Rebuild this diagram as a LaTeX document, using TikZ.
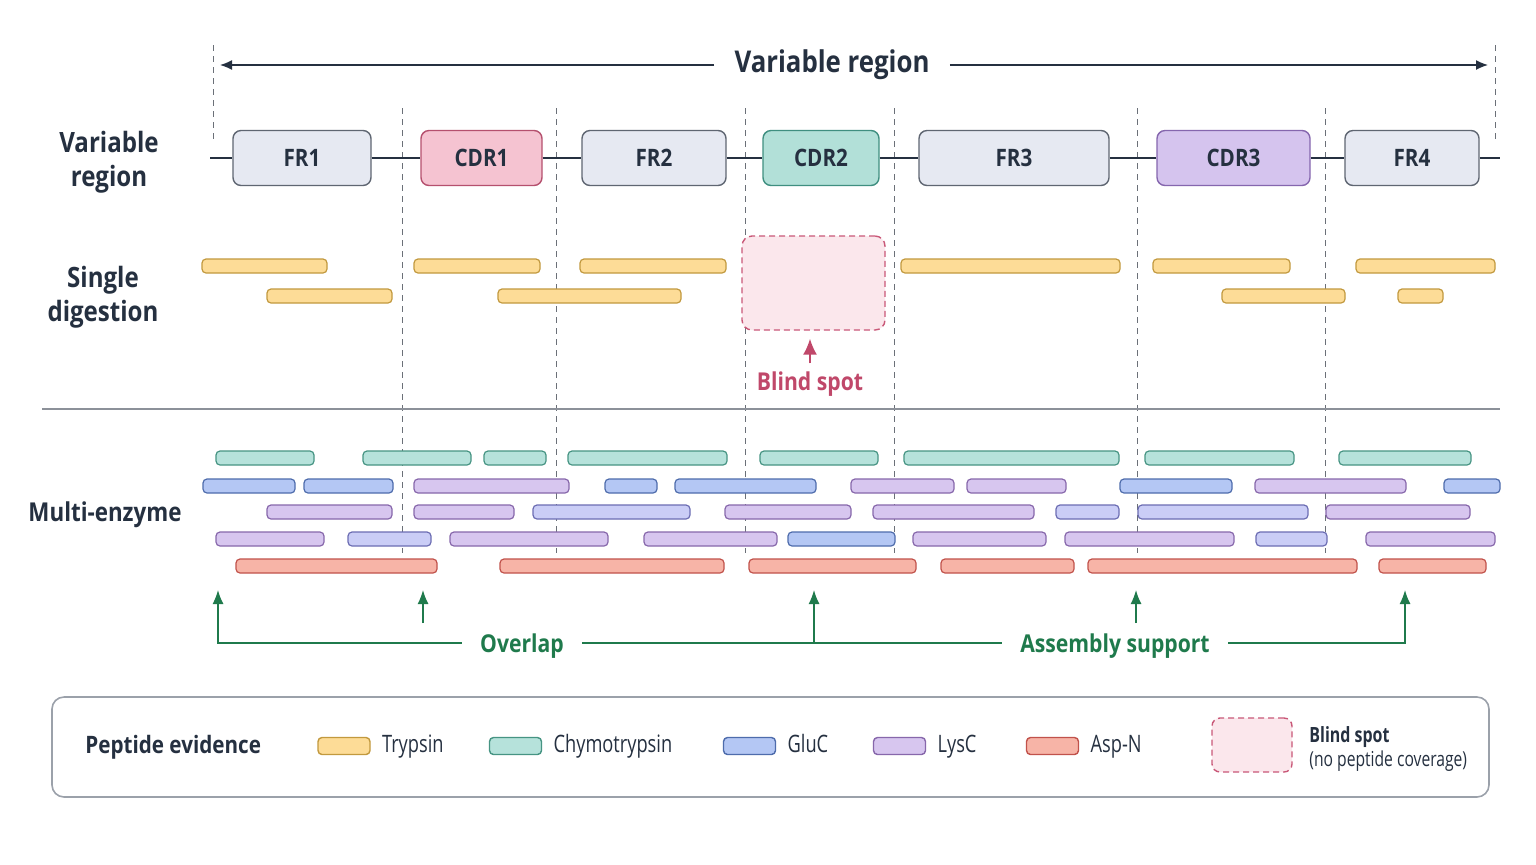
\documentclass[tikz,border=0pt]{standalone}
\usepackage{fontspec}
\setmainfont{Open Sans}[FakeStretch=0.86]
\newfontfamily\narrowfont{Open Sans}[FakeStretch=0.76]
\usepackage{tikz}
\usetikzlibrary{positioning,arrows.meta}

\definecolor{ink}{HTML}{253040}
\definecolor{frfill}{HTML}{E6E9F2}\definecolor{frline}{HTML}{5F6672}
\definecolor{cdra}{HTML}{F5C3D1}\definecolor{cdral}{HTML}{B5506E}
\definecolor{cdrb}{HTML}{B2E0D8}\definecolor{cdrbl}{HTML}{3F8F80}
\definecolor{cdrc}{HTML}{D5C4EE}\definecolor{cdrcl}{HTML}{8566AE}
\definecolor{trypf}{HTML}{FDDC97}\definecolor{trypl}{HTML}{C2993E}
\definecolor{chyf}{HTML}{B6E2DB}\definecolor{chyl}{HTML}{469483}
\definecolor{glucf}{HTML}{B4C7F4}\definecolor{glucl}{HTML}{4E6CAC}
\definecolor{lyscf}{HTML}{D7C6EF}\definecolor{lyscl}{HTML}{8767AB}
\definecolor{perif}{HTML}{CACDF6}\definecolor{peril}{HTML}{6C6DB3}
\definecolor{aspnf}{HTML}{F7B4A7}\definecolor{aspnl}{HTML}{C1524B}
\definecolor{blindf}{HTML}{FBE7EC}\definecolor{blindl}{HTML}{C95878}
\definecolor{blindtx}{HTML}{C0486A}
\definecolor{grn}{HTML}{1F7A4C}
\definecolor{bndc}{HTML}{6B7078}
\definecolor{divc}{HTML}{8C9199}
\definecolor{legl}{HTML}{9BA1AA}

\begin{document}
\begin{tikzpicture}[x=0.5pt,y=-0.5pt,>=Latex,text=ink,
  seg/.style={draw=frline,fill=frfill,rounded corners=4pt,line width=0.7pt,minimum height=27.5pt,inner sep=0pt,font=\fontsize{12}{14}\selectfont\bfseries},
  fr/.style={draw=frline,fill=frfill},
  cdr1/.style={draw=cdral,fill=cdra},
  cdr2/.style={draw=cdrbl,fill=cdrb},
  cdr3/.style={draw=cdrcl,fill=cdrc},
  lbl/.style={align=center,font=\fontsize{14}{17}\selectfont\bfseries},
  bnd/.style={draw=bndc,dashed,dash pattern=on 3pt off 2.5pt,line width=0.5pt},
  bar/.style={rounded corners=2pt,line width=0.6pt},
  tryp/.style={draw=trypl,fill=trypf},
  chy/.style={draw=chyl,fill=chyf},
  gluc/.style={draw=glucl,fill=glucf},
  lysc/.style={draw=lyscl,fill=lyscf},
  peri/.style={draw=peril,fill=perif},
  aspn/.style={draw=aspnl,fill=aspnf},
  blind/.style={draw=blindl,fill=blindf,dashed,dash pattern=on 3pt off 2pt,line width=0.7pt,rounded corners=5pt,inner sep=0pt},
  gline/.style={draw=grn,line width=0.7pt,-{Latex[length=7pt,width=5.5pt]}},
  gtxt/.style={text=grn,font=\fontsize{12.3}{14}\selectfont\bfseries,inner xsep=9pt},
  sw/.style={bar,line width=0.7pt,minimum width=26pt,minimum height=8.5pt,inner sep=0pt},
  legtxt/.style={inner sep=0pt,text height=9pt,text depth=3pt,font=\narrowfont\fontsize{12}{14}\selectfont}]
\useasboundingbox[fill=white] (0,0) rectangle (1536,864);

% span of the variable region
\node[inner xsep=10pt,font=\fontsize{15}{18}\selectfont\bfseries] (ttl) at (832,65) {Variable region};
\coordinate (arL) at (220,65);
\coordinate (arR) at (1488,65);
\draw[->,draw=ink,line width=0.7pt,-{Latex[length=6pt,width=5pt]}] (ttl.west) -- (arL);
\draw[->,draw=ink,line width=0.7pt,-{Latex[length=6pt,width=5pt]}] (ttl.east) -- (arR);
\draw[bnd] (213,45) -- (213,140);
\draw[bnd] (1495,45) -- (1495,140);

% boundaries between regions
\foreach \x in {402,556,745,894,1137,1325}
  \draw[bnd] (\x,108) -- (\x,553);

% left labels
\node[lbl] (lvr) at (109,162) {Variable\\region};
\node[lbl] (lsd) at (103,297) {Single\\digestion};
\node[lbl,font=\fontsize{13}{16}\selectfont\bfseries] (lme) at (105,515) {Multi-enzyme};

% framework / CDR segments
\coordinate (bbL) at (210,158);
\coordinate (bbR) at (1500,158);
\foreach \nm/\c/\w/\s in {FR1/302/138/fr,CDR1/481.5/121/cdr1,FR2/654/144/fr,CDR2/821/116/cdr2,
    FR3/1014/190/fr,CDR3/1233.5/153/cdr3,FR4/1412/134/fr}
  \node[seg,\s,minimum width=\w*0.5pt] (\nm) at (\c,158) {\nm};
\draw[draw=ink,line width=1.1pt] (bbL) -- (FR1) -- (CDR1) -- (FR2) -- (CDR2) -- (FR3) -- (CDR3) -- (FR4) -- (bbR);

% single digestion
\foreach \a/\b in {202/327,414/540,580/726,901/1120,1153/1290,1356/1495}
  \draw[bar,tryp] (\a,259) rectangle (\b,273);
\foreach \a/\b in {267/392,498/681,1222/1345,1398/1443}
  \draw[bar,tryp] (\a,289) rectangle (\b,303);
\node[blind,minimum width=71.5pt,minimum height=47pt] (bs) at (813.5,283) {};
\node[text=blindtx,font=\fontsize{12.3}{14}\selectfont\bfseries,inner sep=2pt] (bst) at (810,384) {Blind spot};
\draw[draw=blindtx,line width=0.9pt,-{Latex[length=8pt,width=7pt]},shorten >=4pt,shorten <=2pt] (bst.north) -- (bst.north |- bs.south);

\draw[draw=divc,line width=0.8pt] (42,409) -- (1500,409);

% multi-enzyme
\foreach \a/\b in {216/314,363/471,484/546,568/727,760/878,904/1119,1145/1294,1339/1471}
  \draw[bar,chy] (\a,451) rectangle (\b,465);
\foreach \a/\b/\s in {203/295/gluc,304/393/gluc,414/569/lysc,605/657/gluc,675/816/gluc,
    851/954/lysc,967/1066/lysc,1120/1232/gluc,1255/1406/lysc,1444/1500/gluc}
  \draw[bar,\s] (\a,479) rectangle (\b,493);
\foreach \a/\b/\s in {267/392/lysc,414/514/lysc,533/690/peri,725/851/lysc,873/1034/lysc,
    1056/1119/peri,1138/1308/peri,1326/1470/lysc}
  \draw[bar,\s] (\a,505) rectangle (\b,519);
\foreach \a/\b/\s in {216/324/lysc,348/431/peri,450/608/lysc,644/777/lysc,788/895/gluc,
    913/1046/lysc,1065/1234/lysc,1256/1327/peri,1366/1495/lysc}
  \draw[bar,\s] (\a,532) rectangle (\b,546);
\foreach \a/\b in {236/437,500/724,749/916,941/1074,1088/1357,1379/1486}
  \draw[bar,aspn] (\a,559) rectangle (\b,573);

% overlap / assembly support
\node[gtxt] (ovl) at (522,646) {Overlap};
\node[gtxt] (asm) at (1115,646) {Assembly support};
\coordinate (c1) at (218,643); \coordinate (t1) at (218,590);
\coordinate (s2) at (423,623); \coordinate (t2) at (423,590);
\coordinate (m3) at (814,643); \coordinate (t3) at (814,590);
\coordinate (s4) at (1136,623); \coordinate (t4) at (1136,590);
\coordinate (c5) at (1405,643); \coordinate (t5) at (1405,590);
\draw[gline] (ovl.west |- c1) -- (c1) -- (t1);
\draw[gline] (s2) -- (t2);
\draw[draw=grn,line width=0.7pt] (ovl.east |- c1) -- (asm.west |- c1);
\draw[gline] (m3) -- (t3);
\draw[gline] (s4) -- (t4);
\draw[gline] (asm.east |- c5) -- (c5) -- (t5);

% legend
\node[draw=legl,line width=0.8pt,rounded corners=6pt,minimum width=718.5pt,minimum height=50pt] (leg) at (770.5,747) {};
\node[anchor=west,inner sep=0pt,font=\fontsize{12}{14}\selectfont\bfseries] (legT) at (85,747) {Peptide evidence};
\foreach \nm/\x/\s/\t in {tr/344/tryp/Trypsin,ch/515.5/chy/Chymotrypsin,gl/749.5/gluc/GluC,
    ly/899.5/lysc/LysC,as/1052.5/aspn/Asp-N}{
  \node[sw,\s] (sw\nm) at (\x,746) {};
  \node[legtxt,right=5.5pt of sw\nm] (tx\nm) {\t};
}
\node[blind,minimum width=40pt,minimum height=27pt,rounded corners=4pt] (swbs) at (1252,745) {};
\node[anchor=west,inner sep=0pt,align=left,font=\narrowfont\fontsize{10.3}{12}\selectfont] (txbs) at (1309,749)
  {{\fontsize{10.5}{12}\selectfont\bfseries Blind spot}\\(no peptide coverage)};
\end{tikzpicture}
\end{document}
